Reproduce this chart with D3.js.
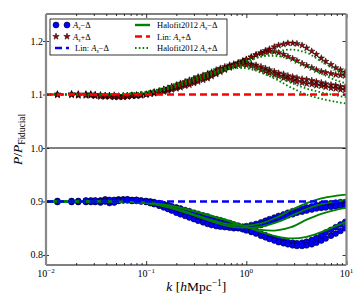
<!DOCTYPE html>
<html><head><meta charset="utf-8">
<script src="https://cdn.jsdelivr.net/npm/d3@7"></script>
<style>body{margin:0;background:#fff}svg{display:block}text{font-family:"Liberation Serif","Times New Roman",serif;fill:#000}</style>
</head><body><svg id="c" width="354" height="295"></svg>
<script>
// ---------- data ----------
const kSim=[0.013,0.018,0.021,0.025,0.028,0.031,0.035,0.039,0.043,0.048,0.053,0.059,0.065,0.072,0.08,0.089,0.1,
0.11,0.12,0.135,0.15,0.165,0.18,0.2,0.22,0.245,0.27,0.3,0.33,0.37,0.41,0.45,0.5,0.55,0.61,0.68,0.75,0.83,0.92,1.0,
1.12,1.25,1.4,1.55,1.7,1.9,2.1,2.35,2.6,2.9,3.2,3.6,4.0,4.5,5.0,5.6,6.2,7.0,7.8,8.7,9.7];
// A_s + Delta simulations
const simPlus1=[1.100,1.101,1.099,1.100,1.101,1.098,1.099,1.097,1.098,1.096,1.097,1.098,1.097,1.098,1.099,1.098,1.100,
1.101,1.102,1.104,1.105,1.107,1.109,1.111,1.113,1.116,1.118,1.121,1.124,1.127,1.130,1.134,1.138,1.142,1.146,1.150,1.154,1.158,1.162,1.165,
1.170,1.174,1.178,1.182,1.185,1.189,1.192,1.194,1.196,1.196,1.195,1.192,1.187,1.181,1.175,1.168,1.162,1.156,1.150,1.146,1.142];
const simPlus2=[1.100,1.099,1.101,1.099,1.098,1.100,1.097,1.098,1.096,1.097,1.095,1.097,1.096,1.098,1.097,1.099,1.100,
1.102,1.103,1.105,1.107,1.109,1.111,1.113,1.115,1.118,1.121,1.124,1.127,1.130,1.133,1.137,1.140,1.144,1.148,1.152,1.155,1.159,1.163,1.166,
1.170,1.174,1.177,1.179,1.181,1.180,1.178,1.175,1.171,1.167,1.163,1.158,1.154,1.150,1.146,1.143,1.141,1.139,1.137,1.136,1.135];
const simPlus3=[1.101,1.100,1.098,1.101,1.099,1.097,1.099,1.096,1.098,1.095,1.097,1.096,1.098,1.097,1.099,1.100,1.101,
1.103,1.105,1.107,1.110,1.112,1.115,1.118,1.121,1.124,1.127,1.130,1.133,1.136,1.139,1.142,1.146,1.149,1.152,1.155,1.157,1.159,1.160,1.159,
1.157,1.155,1.152,1.149,1.146,1.143,1.140,1.138,1.135,1.133,1.131,1.129,1.128,1.126,1.124,1.122,1.120,1.118,1.117,1.115,1.114];
const simPlus4=[1.099,1.101,1.100,1.098,1.100,1.099,1.096,1.098,1.097,1.099,1.096,1.095,1.097,1.099,1.098,1.099,1.100,
1.102,1.104,1.106,1.109,1.111,1.114,1.116,1.119,1.122,1.125,1.128,1.131,1.134,1.137,1.140,1.143,1.146,1.149,1.152,1.154,1.155,1.156,1.155,
1.153,1.150,1.146,1.143,1.140,1.137,1.134,1.131,1.129,1.126,1.124,1.122,1.120,1.119,1.117,1.116,1.114,1.112,1.111,1.109,1.108];
// A_s - Delta simulations
const simMinus1=[0.900,0.899,0.899,0.900,0.901,0.900,0.898,0.903,0.902,0.901,0.903,0.904,0.903,0.902,0.903,0.901,0.900,
0.898,0.896,0.893,0.890,0.887,0.884,0.881,0.878,0.875,0.872,0.869,0.866,0.863,0.861,0.859,0.857,0.856,0.855,0.854,0.853,0.853,0.853,0.854,
0.856,0.858,0.861,0.864,0.867,0.870,0.873,0.876,0.879,0.882,0.884,0.887,0.889,0.891,0.893,0.895,0.896,0.897,0.898,0.899,0.899];
const simMinus2=[0.901,0.900,0.900,0.901,0.900,0.901,0.902,0.900,0.897,0.902,0.904,0.903,0.902,0.901,0.902,0.900,0.899,
0.897,0.895,0.892,0.889,0.886,0.883,0.879,0.876,0.873,0.870,0.867,0.864,0.861,0.858,0.856,0.854,0.853,0.852,0.851,0.850,0.850,0.850,0.851,
0.852,0.854,0.856,0.859,0.862,0.865,0.868,0.871,0.874,0.876,0.879,0.881,0.883,0.885,0.887,0.888,0.889,0.890,0.891,0.892,0.893];
const simMinus3=[0.899,0.901,0.900,0.899,0.902,0.899,0.901,0.904,0.900,0.903,0.902,0.903,0.904,0.903,0.901,0.902,0.901,
0.900,0.899,0.897,0.895,0.893,0.891,0.889,0.887,0.884,0.882,0.879,0.877,0.874,0.872,0.869,0.867,0.865,0.862,0.860,0.857,0.855,0.852,0.850,
0.847,0.844,0.840,0.837,0.834,0.831,0.828,0.826,0.824,0.823,0.822,0.823,0.825,0.828,0.832,0.837,0.842,0.847,0.852,0.857,0.862];
const simMinus4=[0.900,0.900,0.901,0.902,0.899,0.902,0.900,0.901,0.903,0.898,0.901,0.902,0.904,0.902,0.903,0.901,0.900,
0.899,0.898,0.896,0.894,0.892,0.890,0.887,0.885,0.882,0.880,0.877,0.874,0.871,0.869,0.866,0.864,0.861,0.859,0.856,0.853,0.851,0.848,0.846,
0.843,0.840,0.836,0.833,0.830,0.827,0.824,0.822,0.820,0.818,0.817,0.817,0.818,0.820,0.823,0.827,0.831,0.836,0.840,0.845,0.850];
// Halofit2012 predictions
const kFit=[0.01,0.02,0.04,0.07,0.1,0.15,0.2,0.3,0.4,0.5,0.7,1.0,1.4,2.0,2.8,4.0,5.6,8.0,10];
const fitPlus1=[1.100,1.100,1.100,1.101,1.103,1.108,1.114,1.124,1.132,1.139,1.150,1.161,1.171,1.180,1.184,1.178,1.162,1.145,1.136];
const fitPlus2=[1.100,1.100,1.100,1.101,1.103,1.109,1.116,1.127,1.135,1.142,1.153,1.164,1.171,1.172,1.166,1.153,1.139,1.126,1.121];
const fitPlus3=[1.100,1.100,1.100,1.102,1.105,1.112,1.119,1.131,1.139,1.145,1.152,1.154,1.147,1.135,1.122,1.111,1.104,1.098,1.095];
const fitPlus4=[1.100,1.100,1.100,1.102,1.105,1.112,1.119,1.130,1.137,1.142,1.148,1.149,1.141,1.128,1.113,1.100,1.092,1.086,1.083];
const fitMinus1=[0.900,0.900,0.900,0.899,0.897,0.892,0.886,0.876,0.868,0.863,0.857,0.855,0.859,0.870,0.884,0.897,0.906,0.911,0.913];
const fitMinus2=[0.900,0.900,0.900,0.899,0.897,0.891,0.885,0.874,0.866,0.860,0.853,0.851,0.853,0.861,0.873,0.886,0.895,0.900,0.902];
const fitMinus3=[0.900,0.900,0.900,0.899,0.898,0.894,0.890,0.882,0.875,0.870,0.862,0.852,0.847,0.846,0.852,0.866,0.877,0.885,0.888];
const fitMinus4=[0.900,0.900,0.900,0.899,0.898,0.894,0.890,0.882,0.876,0.871,0.863,0.853,0.843,0.835,0.831,0.834,0.843,0.855,0.862];
// linear theory
const kLin=[0.01,10];
const linPlus=[1.1,1.1];
const linMinus=[0.9,0.9];
// ticks
const xMajor=[0.01,0.1,1,10];
const xExp=["\u22122","\u22121","0","1"];
const yTicks=[0.8,0.9,1.0,1.1,1.2];
const yTickLabels=["0.8","0.9","1.0","1.1","1.2"];

// ---------- drawing ----------
const svg=d3.select("#c");
const L=46,R=346.5,T=14,B=265;
const x=d3.scaleLog().domain([0.01,10]).range([L,R]);
const y=d3.scaleLinear().domain([0.7813,1.2505]).range([B,T]);
const xMinor=[];
[0.01,0.1,1].forEach(d=>{for(let m=2;m<=9;m++)xMinor.push(d*m);});

svg.append("defs").append("clipPath").attr("id","clip").append("rect").attr("x",L).attr("y",T).attr("width",R-L).attr("height",B-T);
const plot=svg.append("g").attr("clip-path","url(#clip)");
const line=d3.line().x(d=>x(d[0])).y(d=>y(d[1])).curve(d3.curveCatmullRom.alpha(0.5));
const zip=(ks,vs)=>ks.map((k,i)=>[k,vs[i]]);

// markers
const star=d3.symbol().type(d3.symbolStar).size(13);
[simPlus1,simPlus2,simPlus3,simPlus4].forEach(s=>{
  plot.append("g").selectAll("path").data(zip(kSim,s)).join("path")
   .attr("d",star).attr("transform",d=>`translate(${x(d[0])},${y(d[1])})`)
   .attr("fill","#a00000").attr("stroke","#000").attr("stroke-width",0.5);
});
[simMinus1,simMinus2,simMinus3,simMinus4].forEach(s=>{
  plot.append("g").selectAll("circle").data(zip(kSim,s)).join("circle")
   .attr("cx",d=>x(d[0])).attr("cy",d=>y(d[1])).attr("r",2.9)
   .attr("fill","#0000ff").attr("stroke","#000022").attr("stroke-width",0.6);
});
// halofit
[fitPlus1,fitPlus2,fitPlus3,fitPlus4].forEach(s=>{
  plot.append("path").attr("d",line(zip(kFit,s))).attr("fill","none")
   .attr("stroke","#008000").attr("stroke-width",1.8).attr("stroke-dasharray","1.6,2.2");
});
[fitMinus1,fitMinus2,fitMinus3,fitMinus4].forEach(s=>{
  plot.append("path").attr("d",line(zip(kFit,s))).attr("fill","none")
   .attr("stroke","#008000").attr("stroke-width",1.8);
});
// linear
plot.append("path").attr("d",d3.line().x(d=>x(d[0])).y(d=>y(d[1]))(zip(kLin,linPlus)))
  .attr("stroke","#ff0000").attr("stroke-width",2.6).attr("stroke-dasharray","7,4").attr("fill","none");
plot.append("path").attr("d",d3.line().x(d=>x(d[0])).y(d=>y(d[1]))(zip(kLin,linMinus)))
  .attr("stroke","#0000ff").attr("stroke-width",2.6).attr("stroke-dasharray","7,4").attr("fill","none");

// middle separator at 1.0
svg.append("line").attr("x1",L).attr("x2",R).attr("y1",y(1.0)).attr("y2",y(1.0)).attr("stroke","#000").attr("stroke-width",1);

// axes
function ax(g){g.select(".domain").remove();g.selectAll("line").attr("stroke","#000").attr("stroke-width",0.8);g.selectAll("text").remove();}
svg.append("g").attr("transform",`translate(0,${B})`).call(d3.axisBottom(x).tickValues(xMajor).tickSize(-4)).call(ax);
svg.append("g").attr("transform",`translate(0,${B})`).call(d3.axisBottom(x).tickValues(xMinor).tickSize(-2)).call(ax);
svg.append("g").attr("transform",`translate(0,${T})`).call(d3.axisTop(x).tickValues(xMajor).tickSize(-4)).call(ax);
svg.append("g").attr("transform",`translate(0,${T})`).call(d3.axisTop(x).tickValues(xMinor).tickSize(-2)).call(ax);
const la=svg.append("g").attr("transform",`translate(${L},0)`).call(d3.axisLeft(y).tickValues(yTicks).tickSize(3)).call(ax);
la.selectAll("line").attr("x2",-3).attr("x1",3);
svg.append("g").attr("transform",`translate(${R},0)`).call(d3.axisRight(y).tickValues(yTicks).tickSize(-4)).call(ax);

// spines
svg.append("line").attr("x1",L).attr("x2",R).attr("y1",T).attr("y2",T).attr("stroke","#000").attr("stroke-width",1);
svg.append("line").attr("x1",L).attr("x2",R).attr("y1",B).attr("y2",B).attr("stroke","#000").attr("stroke-width",1);
svg.append("line").attr("x1",L).attr("x2",L).attr("y1",T).attr("y2",B).attr("stroke","#888").attr("stroke-width",2.2);
svg.append("line").attr("x1",R).attr("x2",R).attr("y1",T).attr("y2",B).attr("stroke","#888").attr("stroke-width",2.2);

// tick labels
yTicks.forEach((v,i)=>{
  svg.append("text").attr("x",43).attr("y",y(v)+3.5).attr("text-anchor","end").attr("font-size",10).text(yTickLabels[i]);
});
xMajor.forEach((v,i)=>{
  const t=svg.append("text").attr("x",x(v)).attr("y",277).attr("text-anchor","middle").attr("font-size",10);
  t.append("tspan").text("10");
  t.append("tspan").attr("font-size",7).attr("dy",-4).text(xExp[i]);
});

// rich text helper
function rich(t,parts,base){
  let shift=0;
  parts.forEach(p=>{
    const ts=t.append("tspan").text(p.t);
    let target=0;
    if(p.sub){ts.attr("font-size",base*0.7);target=base*0.25;}
    else if(p.sup){ts.attr("font-size",base*0.7);target=-base*0.4;}
    if(p.i)ts.attr("font-style","italic");
    if(target!==shift){ts.attr("dy",target-shift);shift=target;}
  });
}
// axis labels
const xl=svg.append("text").attr("x",(L+R)/2).attr("y",291).attr("text-anchor","middle").attr("font-size",13.5);
rich(xl,[{t:"k",i:1},{t:" ["},{t:"h",i:1},{t:"Mpc"},{t:"\u22121",sup:1},{t:"]"}],13.5);
const yl=svg.append("text").attr("transform",`translate(22,${(T+B)/2}) rotate(-90)`).attr("text-anchor","middle").attr("font-size",13.5);
rich(yl,[{t:"P",i:1},{t:"/"},{t:"P",i:1},{t:"Fiducial",sub:1}],13.5);

// legend
const lg=svg.append("g");
lg.append("rect").attr("x",50).attr("y",19).attr("width",177).attr("height",36).attr("fill","#fff").attr("stroke","#000").attr("stroke-width",0.8);
const rows=[25,36.5,48];
const fs=8.5;
function ltext(xp,yp,parts){const t=lg.append("text").attr("x",xp).attr("y",yp+3).attr("font-size",fs);rich(t,parts,fs);}
[56,67].forEach(cx=>{
  lg.append("circle").attr("cx",cx).attr("cy",rows[0]).attr("r",3).attr("fill","#0000ff").attr("stroke","#000022").attr("stroke-width",0.6);
  lg.append("path").attr("d",star).attr("transform",`translate(${cx},${rows[1]})`).attr("fill","#a00000").attr("stroke","#000").attr("stroke-width",0.5);
});
ltext(73,rows[0],[{t:"A",i:1},{t:"s",sub:1,i:1},{t:"\u2212\u0394"}]);
ltext(73,rows[1],[{t:"A",i:1},{t:"s",sub:1,i:1},{t:"+\u0394"}]);
lg.append("line").attr("x1",55).attr("x2",69).attr("y1",rows[2]).attr("y2",rows[2]).attr("stroke","#0000ff").attr("stroke-width",2.6).attr("stroke-dasharray","7,4");
ltext(75,rows[2],[{t:"Lin: "},{t:"A",i:1},{t:"s",sub:1,i:1},{t:"\u2212\u0394"}]);
lg.append("line").attr("x1",135).attr("x2",150).attr("y1",rows[0]).attr("y2",rows[0]).attr("stroke","#008000").attr("stroke-width",2.4);
ltext(157,rows[0],[{t:"Halofit2012\u2009"},{t:"A",i:1},{t:"s",sub:1,i:1},{t:"\u2212\u0394"}]);
lg.append("line").attr("x1",135).attr("x2",150).attr("y1",rows[1]).attr("y2",rows[1]).attr("stroke","#ff0000").attr("stroke-width",2.6).attr("stroke-dasharray","7,4");
ltext(157,rows[1],[{t:"Lin: "},{t:"A",i:1},{t:"s",sub:1,i:1},{t:"+\u0394"}]);
lg.append("line").attr("x1",135).attr("x2",150).attr("y1",rows[2]).attr("y2",rows[2]).attr("stroke","#008000").attr("stroke-width",1.8).attr("stroke-dasharray","1.6,2.2");
ltext(157,rows[2],[{t:"Halofit2012\u2009"},{t:"A",i:1},{t:"s",sub:1,i:1},{t:"+\u0394"}]);
</script></body></html>
